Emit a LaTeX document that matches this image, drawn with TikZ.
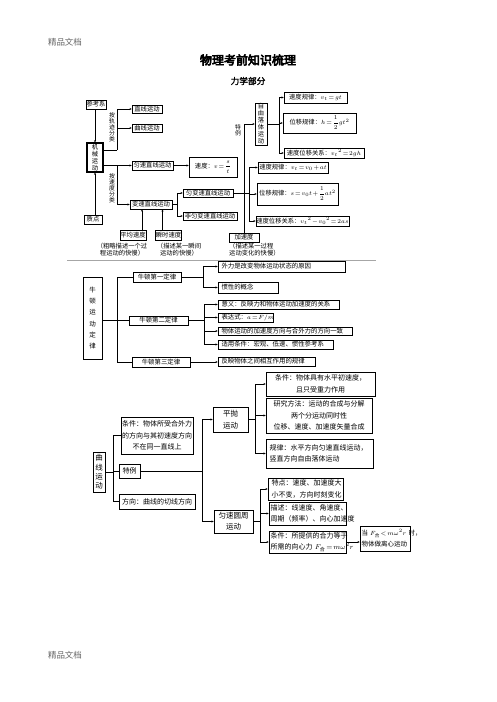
\documentclass[tikz,border=0pt]{standalone}
\usepackage{amsmath}
\usepackage{fontspec}
\setmainfont{Noto Sans CJK SC}
\newfontfamily\titlefont[FakeBold=5]{Noto Sans CJK SC}
\newfontfamily\subfont[FakeBold=1.5]{Noto Sans CJK SC}
\usetikzlibrary{arrows.meta}
\thickmuskip=2mu
\medmuskip=1.5mu
\newcommand\bxn[6][]{\node[box,#1,minimum width={(#4-#2)*1pt},minimum height={(#5-#3)*1pt}] (#6) at ({(#2+#4)/2},{(#3+#5)/2})}
\newcommand\bxl[6][]{\pgfmathsetmacro\tmpw{#4-#2-7}\node[box,align=left,text width=\tmpw pt,inner xsep=3.5pt,#1,minimum height={(#5-#3)*1pt}] (#6) at ({(#2+#4)/2},{(#3+#5)/2})}
\tikzset{
  box/.style={draw, line width=0.5pt, inner sep=0.5pt, align=center},
  kin/.style={font=\fontsize{6.3}{7}\selectfont},
  nwt/.style={font=\fontsize{6.4}{7}\selectfont},
  crv/.style={font=\fontsize{7}{11.5}\selectfont},
  lbl/.style={inner sep=0, align=center, font=\fontsize{5.8}{6}\selectfont},
  ln/.style={line width=0.45pt},
  arr/.style={ln,-{Stealth[length=2.3pt,width=2pt]}}
}
\begin{document}
\begin{tikzpicture}[x=1pt,y=-1pt]
\fill[white] (0,0) rectangle (496,702);
\useasboundingbox (0,0) rectangle (496,702);

% header / titles
\node[text=black!60, font=\fontsize{8.5}{9}\selectfont] (hd) at (65,42) {精品文档};
\node[text=black!60, font=\fontsize{8.5}{9}\selectfont] (ft) at (65,655) {精品文档};
\node (title) at (248,60) {\titlefont\fontsize{12}{12}\selectfont 物理考前知识梳理};
\node (sub) at (248,81) {\subfont\fontsize{8.7}{9}\selectfont 力学部分};

% ---------- kinematics ----------
\bxn[kin]{86}{100}{106}{109}{ckx} {参考系};
\bxn[kin]{132}{105}{162}{113}{zx} {直线运动};
\bxn[kin]{132}{124}{162}{132}{qx} {曲线运动};
\bxn[kin,line width=1.1pt,inner ysep=0pt]{87}{143}{103}{172}{jx} {机\\械\\运\\动};
\bxn[kin]{84}{215}{102}{224}{zd} {质点};
\bxn[kin]{132}{161}{173}{170}{ys} {匀速直线运动};
\bxn[kin]{189}{157}{237}{177}{sd} {速度：\mbox{$v=\dfrac{s}{t}$}};
\bxn[kin]{130}{200}{172}{209}{bs} {变速直线运动};
\bxn[kin]{183}{189}{233}{197}{ybs} {匀变速直线运动};
\bxn[kin]{183}{212}{237}{220}{fbs} {非匀变速直线运动};
\bxn[kin]{120}{230}{146}{240}{pj} {平均速度};
\bxn[kin]{157}{230}{180}{240}{ss} {瞬时速度};
\bxn[kin]{229}{233}{259}{242}{jsd} {加速度};
\node[kin, align=center, inner sep=0] (cap1) at (122,250) {（粗略描述一个过\\程运动的快慢）};
\node[kin, align=center, inner sep=0] (cap2) at (179,250) {（描述某一瞬间\\运动的快慢）};
\node[kin, align=left, inner sep=0, anchor=west] (cap3) at (229,250) {（描述某一过程\\运动变化的快慢）};
\node[lbl] (lb1) at (112,127) {按\\轨\\迹\\分\\类};
\node[lbl] (lb2) at (112,188) {按\\速\\度\\分\\类};
\node[lbl] (lb3) at (238,130) {特\\例};

\bxn[kin,inner ysep=0pt]{255}{103}{267}{145}{zy} {自\\由\\落\\体\\运\\动};
\bxn[kin]{284}{92}{347}{103}{f1} {速度规律：\mbox{$v_t=gt$}};
\bxn[kin]{283}{113}{356}{133}{f2} {位移规律：\mbox{$h=\dfrac{1}{2}gt^2$}};
\bxn[kin]{284}{148}{364}{158}{f3} {速度位移关系：\mbox{${v_t}^2=2gh$}};
\bxn[kin]{258}{162}{328}{173}{r1} {速度规律：\mbox{$v_t=v_0+at$}};
\bxn[kin]{257}{183}{338}{205}{r2} {位移规律：\mbox{$s=v_0t+\dfrac{1}{2}at^2$}};
\bxn[kin]{258}{216}{347}{226}{r3} {速度位移关系：\mbox{${v_t}^2-{v_0}^2=2as$}};

\coordinate (k1) at (117,150);
\draw[arr] (jx.north |- ckx.south) -- (jx.north);
\draw[arr] (zd.north -| jx.south) -- (jx.south);
\draw[ln] (k1 -| jx.east) -- (k1);
\draw[arr] (k1) -- (k1 |- zx.west) -- (zx.west);
\draw[arr] (k1 |- qx.west) -- (qx.west);
\draw[arr] (ys.west -| jx.east) -- (ys.west);
\draw[arr] (ys.west -| k1) -- (k1 |- bs.west) -- (bs.west);
\draw[arr] (ys.east) -- (ys.east -| sd.west);
\coordinate (k3) at (177,0);
\draw[ln] (bs.east) -- (bs.east -| k3);
\draw[arr] (bs.east -| k3) |- (ybs.west);
\draw[arr] (bs.east -| k3) |- (fbs.west);
\draw[arr] ([xshift=9pt]pj.north) -- ([xshift=9pt]pj.north |- bs.south);
\draw[arr] ([xshift=-6pt]ss.north) -- ([xshift=-6pt]ss.north |- bs.south);
\coordinate (k4) at (249,0);
\draw[ln] (ybs.east) -- (ybs.east -| k4);
\draw[arr] (ybs.east -| k4) |- (r1.west);
\draw[arr] (ybs.east -| k4) |- (r3.west);
\draw[arr] (k4 |- r2.west) -- (r2.west);
\draw[arr] (jsd.north) -- (jsd.north |- zy.west) -- (zy.west);
\coordinate (k6) at (279,0);
\draw[ln] (zy.east) -- (zy.east -| k6);
\draw[arr] (zy.east -| k6) |- (f1.west);
\draw[arr] (zy.east -| k6) |- (f3.west);
\draw[arr] (k6 |- f2.west) -- (f2.west);

% separator
\draw[black!35, line width=0.6pt] (67,260.5) -- (376,260.5);

% ---------- Newton ----------
\bxn[font=\fontsize{6.5}{11.3}\selectfont]{83}{277}{102}{359}{nd} {牛\\顿\\运\\动\\定\\律};
\bxn[nwt]{133}{272}{181}{282}{n1} {牛顿第一定律};
\bxn[nwt]{129}{316}{188}{325}{n2} {牛顿第二定律};
\bxn[nwt]{132}{357}{190}{367}{n3} {牛顿第三定律};
\bxl[nwt]{218}{261}{345}{272}{a1} {外力是改变物体运动状态的原因};
\bxl[nwt]{218}{282}{278}{293}{a2} {惯性的概念};
\bxl[nwt]{218}{300}{339}{309}{b1} {意义：反映力和物体运动加速度的关系};
\bxl[nwt]{218}{313}{273}{322}{b2} {表达式：\mbox{$a=F/m$}};
\bxl[nwt]{218}{327}{352}{335}{b3} {物体运动的加速度方向与合外力的方向一致};
\bxl[nwt]{218}{340}{333}{349}{b4} {适用条件：宏观、低速、惯性参考系};
\bxl[nwt]{218}{357}{315}{366}{c1} {反映物体之间相互作用的规律};

\coordinate (k7) at (117,0);
\draw[ln] (nd.east |- n2.west) -- (n2.west);
\draw[ln] (n1.west) -| (k7 |- n3.west) -- (n3.west);
\coordinate (k8) at (203,0);
\draw[ln] (n1.east) -- (n1.east -| k8);
\draw[arr] (n1.east -| k8) |- (a1.west);
\draw[arr] (n1.east -| k8) |- (a2.west);
\coordinate (k9) at (204,0);
\draw[ln] (n2.east) -- (n2.east -| k9);
\draw[arr] (n2.east -| k9) |- (b1.west);
\draw[arr] (n2.east -| k9) |- (b2.west);
\draw[arr] (n2.east -| k9) |- (b3.west);
\draw[arr] (n2.east -| k9) |- (b4.west);
\draw[arr] (n3.east) -- (n3.east -| c1.west);

% ---------- curvilinear ----------
\bxn[font=\fontsize{7.5}{9.3}\selectfont,inner ysep=0pt]{93}{452}{105}{492}{qm} {曲\\线\\运\\动};
\bxn[crv]{121}{417}{193}{454}{tj} {条件：物体所受合外力\\的方向与其初速度方向\\不在同一直线上};
\bxn[crv]{119}{464}{140}{478}{tl} {特例};
\bxn[crv]{119}{494}{195}{509}{fx} {方向：曲线的切线方向};
\bxn[font=\fontsize{7.5}{12}\selectfont]{213}{407}{248}{432}{pp} {平抛\\运动};
\bxn[font=\fontsize{7.5}{11}\selectfont]{214}{510}{253}{533}{yz} {匀速圆周\\运动};
\bxn[crv]{266}{372}{375}{396}{p1} {条件：物体具有水平初速度，\\且只受重力作用};
\bxn[crv]{266}{398}{372}{433}{p2} {研究方法：运动的合成与分解\\两个分运动同时性\\位移、速度、加速度矢量合成};
\bxl[crv]{266}{439}{373}{468}{p3} {规律：水平方向匀速直线运动，\\竖直方向自由落体运动};
\bxl[crv]{268}{478}{343}{500}{q1} {特点：速度、加速度大\\小不变，方向时刻变化};
\bxl[crv,inner xsep=1.5pt]{267}{502}{348}{525}{q2} {描述：线速度、角速度、\\周期（频率）、向心加速度};
\bxl[crv,inner xsep=1.5pt]{267}{531}{348}{553}{q3} {条件：所提供的合力等于\\所需的向心力~\mbox{$F_{\text{合}}=m\omega^2r$}};
\bxl[font=\fontsize{6.5}{11.5}\selectfont,inner xsep=1.5pt]{358}{526}{412}{551}{q4} {当~\mbox{$F_{\text{合}}<m\omega^2r$}~时，\\物体做离心运动};

\coordinate (k10) at (113,0);
\draw[ln] (qm.east) -- (qm.east -| k10);
\draw[ln] (tj.west) -| (k10 |- fx.west) -- (fx.west);
\draw[ln] (k10 |- tl.west) -- (tl.west);
\coordinate (k11) at (202,0);
\draw[ln] (tl.east) -- (tl.east -| k11);
\draw[arr] (tl.east -| k11) |- (pp.west);
\draw[arr] (tl.east -| k11) |- (yz.west);
\coordinate (k12) at (255,0);
\draw[ln] (pp.east) -- (pp.east -| k12);
\draw[arr] (pp.east -| k12) |- (p1.west);
\draw[arr] (pp.east -| k12) |- (p3.west);
\draw[arr] (k12 |- p2.west) -- (p2.west);
\coordinate (k13) at (260,0);
\draw[ln] (yz.east) -- (yz.east -| k13);
\draw[arr] (yz.east -| k13) |- (q1.west);
\draw[arr] (yz.east -| k13) |- (q3.west);
\draw[arr] (k13 |- q2.west) -- (q2.west);
\draw[arr] (q3.east) -- (q3.east -| q4.west);
\end{tikzpicture}
\end{document}
